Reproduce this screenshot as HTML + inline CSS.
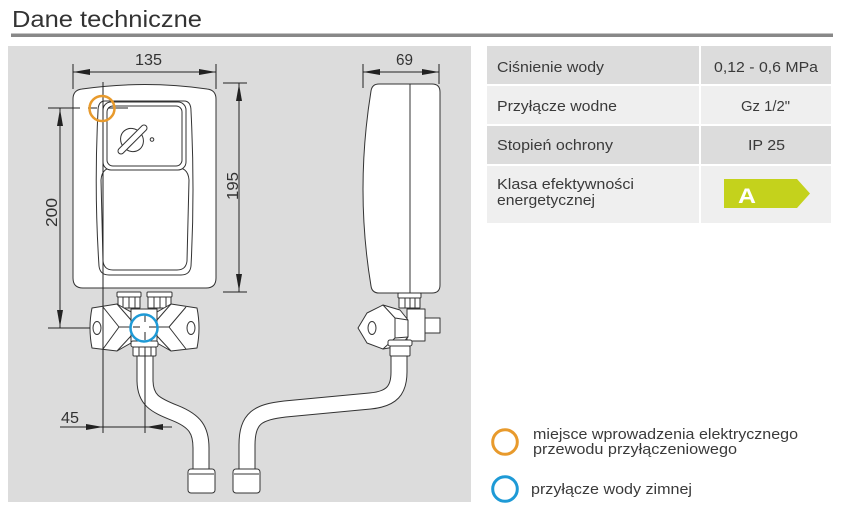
<!DOCTYPE html>
<html><head><meta charset="utf-8"><style>
html,body{margin:0;padding:0;background:#fff;width:846px;height:514px;overflow:hidden}
svg{display:block}
text{font-family:"Liberation Sans",sans-serif}
</style></head><body>
<svg width="846" height="514" viewBox="0 0 846 514" xmlns="http://www.w3.org/2000/svg">
<!-- title -->
<text x="12" y="27" font-size="23" fill="#333" textLength="190" lengthAdjust="spacingAndGlyphs">Dane techniczne</text>
<rect x="11" y="33.5" width="822" height="3.5" fill="#888"/>

<!-- diagram panel -->
<rect x="8" y="46" width="463" height="456" fill="#dcdcdc"/>

<!-- table -->
<rect x="487" y="46" width="344" height="38" fill="#dcdcdc"/>
<rect x="487" y="86" width="344" height="38" fill="#efefef"/>
<rect x="487" y="126" width="344" height="38" fill="#dcdcdc"/>
<rect x="487" y="166" width="344" height="57" fill="#efefef"/>
<rect x="699" y="46" width="2" height="177" fill="#fff"/>
<g font-size="15" fill="#3a3a3a">
<text x="497" y="72" textLength="107" lengthAdjust="spacingAndGlyphs">Ciśnienie wody</text>
<text x="714" y="72" textLength="104" lengthAdjust="spacingAndGlyphs">0,12 - 0,6 MPa</text>
<text x="497" y="111" textLength="120" lengthAdjust="spacingAndGlyphs">Przyłącze wodne</text>
<text x="741" y="111" textLength="49" lengthAdjust="spacingAndGlyphs">Gz 1/2"</text>
<text x="497" y="150" textLength="116" lengthAdjust="spacingAndGlyphs">Stopień ochrony</text>
<text x="748" y="150" textLength="37" lengthAdjust="spacingAndGlyphs">IP 25</text>
<text x="497" y="189" textLength="137" lengthAdjust="spacingAndGlyphs">Klasa efektywności</text>
<text x="497" y="205" textLength="98" lengthAdjust="spacingAndGlyphs">energetycznej</text>
</g>
<polygon points="724,179 797,179 810,193.5 797,208 724,208" fill="#c4d21c"/>
<text x="738" y="203" font-size="21" font-weight="bold" fill="#fff" textLength="18" lengthAdjust="spacingAndGlyphs">A</text>

<!-- legend -->
<circle cx="505" cy="442" r="12.3" fill="none" stroke="#e89a2c" stroke-width="3"/>
<circle cx="505" cy="489" r="12.3" fill="none" stroke="#1e9ad6" stroke-width="3"/>
<g font-size="15" fill="#3a3a3a">
<text x="533" y="439" textLength="265" lengthAdjust="spacingAndGlyphs">miejsce wprowadzenia elektrycznego</text>
<text x="533" y="454" textLength="204" lengthAdjust="spacingAndGlyphs">przewodu przyłączeniowego</text>
<text x="531" y="494" textLength="161" lengthAdjust="spacingAndGlyphs">przyłącze wody zimnej</text>
</g>

<!-- ===== Front view ===== -->
<g stroke="#333" stroke-width="1" fill="#fff" stroke-linejoin="round">
<!-- body -->
<path d="M73,99 Q73,90 82,89 Q145,80 207,89 Q216,90 216,99 L216,278 Q216,288 206,288 L83,288 Q73,288 73,278 Z"/>
<!-- panel outer -->
<path d="M105,101 Q98,101 98,111 Q94,190 99,266 Q100,275 109,275 L181,275 Q190,275 191,266 Q195,190 191,111 Q191,101 184,101 Z"/>
<!-- lower cover -->
<path d="M101,180 Q102,166 116,168 L174,168 Q188,166 189,180 L187,261 Q186,270 177,270 L113,270 Q104,270 103,261 Z"/>
<!-- control panel -->
<rect x="103" y="102" width="83" height="68" rx="8"/>
<rect x="107" y="106" width="75" height="60" rx="6"/>
<!-- knob -->
<ellipse cx="132" cy="140" rx="11" ry="12" transform="rotate(-40 132 140)"/>
<path d="M121,151 L144,128" stroke-width="7" stroke-linecap="round" stroke="#333"/>
<path d="M121,151 L144,128" stroke-width="5" stroke-linecap="round" stroke="#fff"/>
<circle cx="152" cy="139.5" r="1.8"/>

<!-- fittings under body -->
<rect x="117" y="292" width="24" height="5" rx="1"/>
<rect x="118" y="297" width="22" height="11"/>
<path d="M123,297 V308 M129,297 V308 M135,297 V308" fill="none"/>
<rect x="147" y="292" width="25" height="5" rx="1"/>
<rect x="148" y="297" width="23" height="11"/>
<path d="M154,297 V308 M160,297 V308 M166,297 V308" fill="none"/>

<!-- pipe left -->
<path d="M145,352 L145,380 C145,400 155,405 175,413 C195,421 201,430 201,448 L201,471" fill="none" stroke="#333" stroke-width="17"/>
<path d="M145,352 L145,380 C145,400 155,405 175,413 C195,421 201,430 201,448 L201,471" fill="none" stroke="#fff" stroke-width="15"/>
<rect x="188" y="469" width="27" height="24" rx="3"/>
<path d="M189,474 H214" fill="none"/>

<!-- valve wings -->
<path d="M92,308 L117,304 L131,312 L131,343 L117,351 L92,348 Q88,328 92,308 Z"/>
<path d="M103,307 L119,327 L103,349 M119,327 L131,327 M117,304 L131,320 M117,351 L131,336" fill="none"/>
<path d="M197,308 L171,304 L157,312 L157,343 L171,351 L197,348 Q201,328 197,308 Z"/>
<path d="M186,307 L169,327 L186,349 M169,327 L157,327 M171,304 L157,320 M171,351 L157,336" fill="none"/>
<rect x="131" y="309" width="26" height="35"/>
<ellipse cx="97" cy="328" rx="4" ry="6.5"/>
<ellipse cx="191" cy="328" rx="4" ry="6.5"/>
<!-- bottom nut -->
<rect x="131" y="341" width="27" height="6" rx="2"/>
<rect x="133" y="347" width="23" height="9" rx="1"/>
<path d="M139,347 V356 M145,347 V356 M151,347 V356" fill="none"/>

<!-- ===== Side view ===== -->
<path d="M379,84 L432,84 Q440,84 440,92 L440,285 Q440,293 432,293 L379,293 Q372,293 371,286 Q355,190 371,91 Q372,84 379,84 Z"/>
<path d="M410,84 V293" fill="none"/>
<rect x="398" y="293" width="23" height="5" rx="1"/>
<rect x="399" y="298" width="21" height="10"/>
<path d="M405,298 V308 M410,298 V308 M415,298 V308" fill="none"/>
<!-- right pipe -->
<path d="M247,471 L247,445 C247,418 258,412 285,409 L370,401 C392,399 399,390 399,372 L399,352" fill="none" stroke="#333" stroke-width="17"/>
<path d="M247,471 L247,445 C247,418 258,412 285,409 L370,401 C392,399 399,390 399,372 L399,352" fill="none" stroke="#fff" stroke-width="15"/>
<rect x="233" y="469" width="27" height="24" rx="3"/>
<path d="M234,474 H259" fill="none"/>
<!-- side valve -->
<rect x="425" y="318" width="15" height="15"/>
<rect x="407" y="309" width="18" height="32"/>
<path d="M358,328 L367,313 L383,305 L400,310 L408,320 L408,337 L400,346 L383,349 L367,343 Z"/>
<path d="M383,305 L395,318 L395,338 L383,349 M395,318 L408,320 M395,338 L408,337" fill="none"/>
<ellipse cx="372" cy="328" rx="4" ry="6.5"/>
<rect x="388" y="340" width="24" height="6" rx="2"/>
<rect x="390" y="346" width="20" height="10" rx="1"/>
</g>

<!-- ===== Dimension lines ===== -->
<g stroke="#222" stroke-width="1" fill="none">
<!-- 135 -->
<path d="M73,64 V89 M216,64 V89 M73,72 H216"/>
<!-- 69 -->
<path d="M363,64 V88 M439,64 V84 M363,72 H439"/>
<!-- 195 -->
<path d="M223,83 H247 M223,292 H247 M239,83 V292"/>
<!-- 200 -->
<path d="M48,108 H80 M48,328 H90 M60,108 V328"/>
<!-- crosshair orange -->
<path d="M88,108 H97 M108,108 H128 M103,82 V433"/>
<!-- crosshair blue -->
<path d="M133,327 H140 M149,327 H157 M145,314 V322 M145,332 V340 M145,350 V433"/>
<!-- 45 -->
<path d="M60,427 H172"/>
</g>
<g fill="#222">
<polygon points="73,72 90,69 90,75"/>
<polygon points="216,72 199,69 199,75"/>
<polygon points="363,72 380,69 380,75"/>
<polygon points="439,72 422,69 422,75"/>
<polygon points="239,84 236,101 242,101"/>
<polygon points="239,291 236,274 242,274"/>
<polygon points="60,109 57,126 63,126"/>
<polygon points="60,327 57,310 63,310"/>
<polygon points="103,427 86,424 86,430"/>
<polygon points="146,427 163,424 163,430"/>
</g>
<!-- markers -->
<circle cx="102" cy="108.5" r="12.5" fill="none" stroke="#e89a2c" stroke-width="2.5"/>
<circle cx="144" cy="328" r="13.5" fill="none" stroke="#1e9ad6" stroke-width="2.5"/>

<g font-size="16" fill="#333">
<text x="135" y="65" textLength="27" lengthAdjust="spacingAndGlyphs">135</text>
<text x="396" y="65" textLength="17" lengthAdjust="spacingAndGlyphs">69</text>
<text x="61" y="423" textLength="18" lengthAdjust="spacingAndGlyphs">45</text>
<text transform="translate(57,227) rotate(-90)" textLength="29" lengthAdjust="spacingAndGlyphs">200</text>
<text transform="translate(238,200) rotate(-90)" textLength="28" lengthAdjust="spacingAndGlyphs">195</text>
</g>
</svg>
</body></html>
